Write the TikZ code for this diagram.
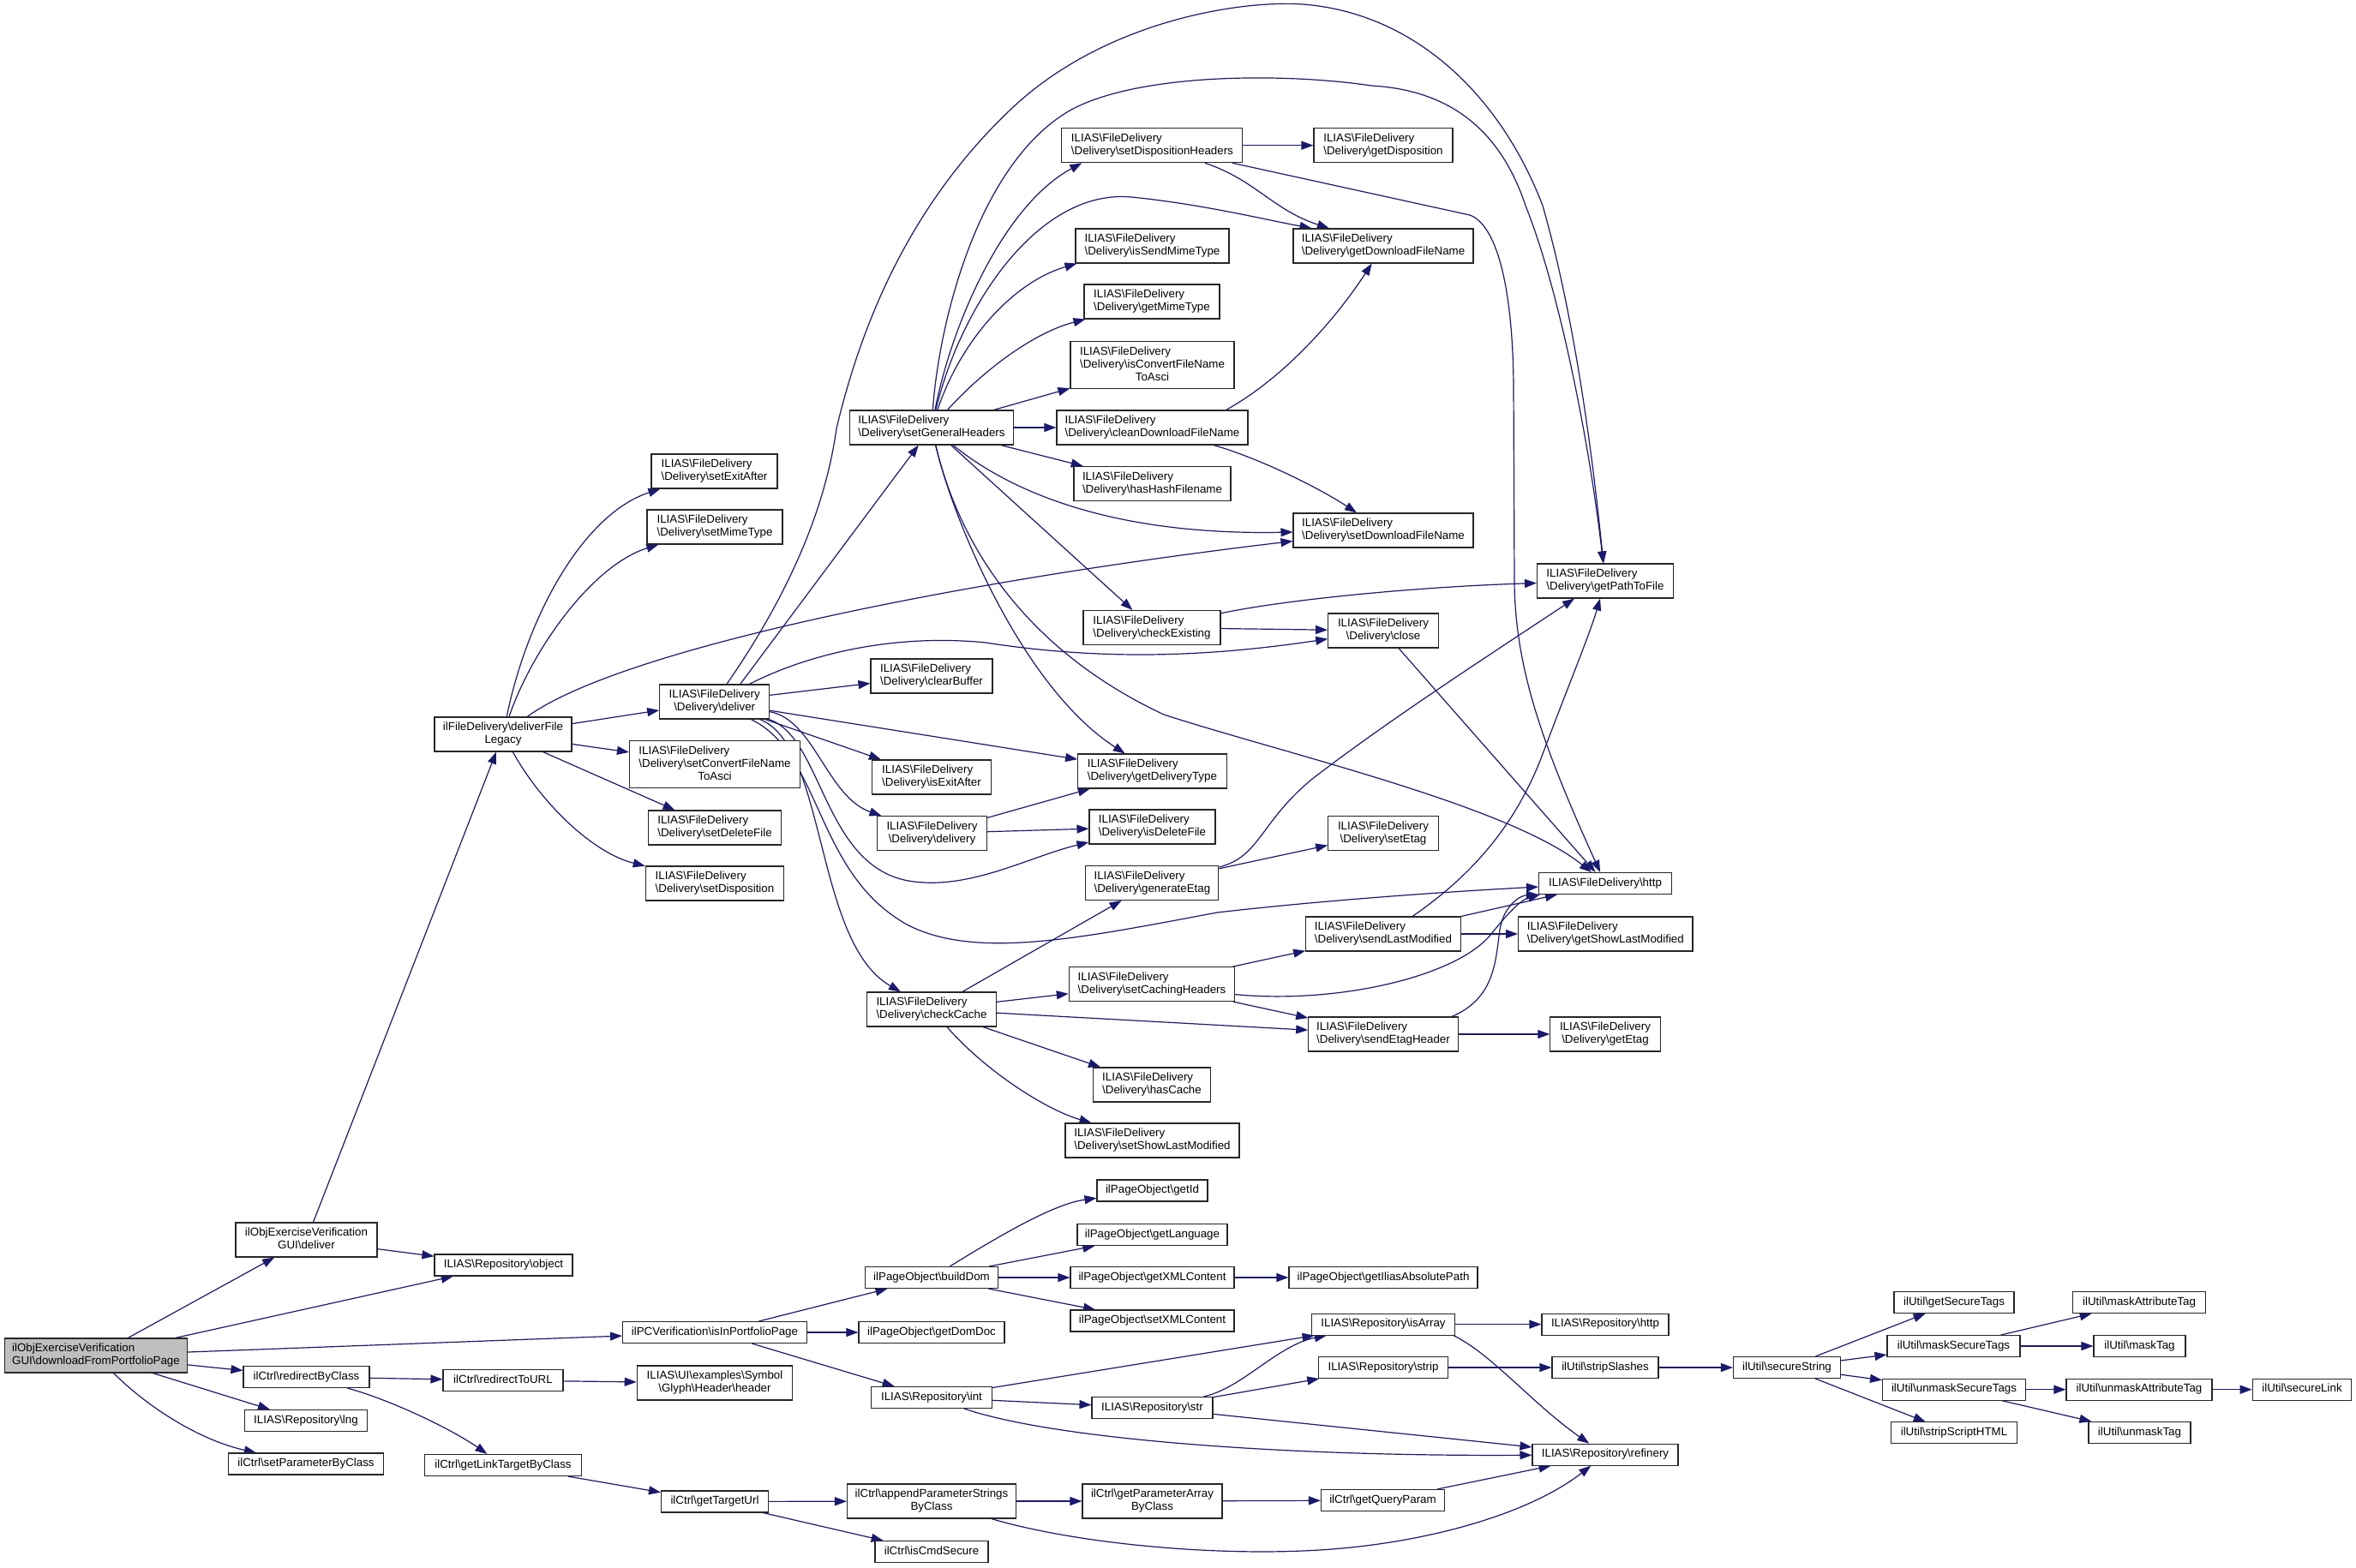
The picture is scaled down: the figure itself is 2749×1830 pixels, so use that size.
\documentclass[tikz,border=0pt]{standalone}
\usepackage{fontspec}
\setmainfont{Liberation Sans}
\usetikzlibrary{arrows.meta,calc}
\definecolor{edgecol}{HTML}{191970}
\definecolor{maingray}{HTML}{BFBFBF}
\newcommand{\Bsl}{\textbackslash}
\newcommand{\lone}[1]{\begin{tabular}{@{}c@{}}#1\end{tabular}}
\newcommand{\ltwo}[2]{\begin{tabular}{@{}l@{}}#1\\\multicolumn{1}{@{}c@{}}{#2}\end{tabular}}
\newcommand{\lthree}[3]{\begin{tabular}{@{}l@{}}#1\\#2\\\multicolumn{1}{@{}c@{}}{#3}\end{tabular}}
\newcommand{\fdl}[1]{\ltwo{ILIAS\Bsl FileDelivery}{\Bsl Delivery\Bsl #1}}
\pgfdeclarelayer{bg}
\pgfsetlayers{bg,main}
\tikzset{
  fn/.style={draw=black!85, line width=0.8pt, fill=white, inner xsep=2pt, inner ysep=3.75pt},
  w/.style={minimum width=#1*0.75pt},
  edge/.style={draw=edgecol, line width=0.9pt, -{Triangle[length=10.5pt,width=7.5pt]}},
}
\begin{document}
\begin{tikzpicture}[x=0.75pt,y=-0.75pt,font=\fontsize{10}{11.25}\selectfont]
\useasboundingbox (0,0) rectangle (2749,1830);
% ---------- nodes ----------
\node[fn,fill=maingray,w=213] (main) at (112,1582) {\ltwo{ilObjExerciseVerification}{GUI\Bsl downloadFromPortfolioPage}};
\node[fn,w=165] (gdeliver) at (357.5,1447) {\ltwo{ilObjExerciseVerification}{GUI\Bsl deliver}};
\node[fn,w=147] (rbc) at (357.5,1607) {\lone{ilCtrl\Bsl redirectByClass}};
\node[fn,w=143] (lng) at (357,1658) {\lone{ILIAS\Bsl Repository\Bsl lng}};
\node[fn,w=181] (spbc) at (357,1708.5) {\lone{ilCtrl\Bsl setParameterByClass}};
\node[fn,w=160] (dfl) at (587,857) {\ltwo{ilFileDelivery\Bsl deliverFile}{Legacy}};
\node[fn,w=161] (object) at (587.5,1476.5) {\lone{ILIAS\Bsl Repository\Bsl object}};
\node[fn,w=140] (rurl) at (587,1611) {\lone{ilCtrl\Bsl redirectToURL}};
\node[fn,w=183] (gltc) at (587,1710) {\lone{ilCtrl\Bsl getLinkTargetByClass}};
\node[fn,w=147] (sea) at (833.5,550) {\fdl{setExitAfter}};
\node[fn,w=158] (smt) at (834,615) {\fdl{setMimeType}};
\node[fn,w=128] (deliver) at (833.7,819) {\fdl{deliver}};
\node[fn,w=199] (scfn) at (834,892) {\lthree{ILIAS\Bsl FileDelivery}{\Bsl Delivery\Bsl setConvertFileName}{ToAsci}};
\node[fn,w=155] (sdf) at (834,966) {\fdl{setDeleteFile}};
\node[fn,w=161.5] (sdisp) at (834,1031) {\fdl{setDisposition}};
\node[fn,w=215] (iipp) at (834,1555) {\lone{ilPCVerification\Bsl isInPortfolioPage}};
\node[fn,w=181.5] (uih) at (834,1614) {\ltwo{ILIAS\Bsl UI\Bsl examples\Bsl Symbol}{\Bsl Glyph\Bsl Header\Bsl header}};
\node[fn,w=125] (gtu) at (834,1752.5) {\lone{ilCtrl\Bsl getTargetUrl}};
\node[fn,w=191] (sgh) at (1087,499) {\fdl{setGeneralHeaders}};
\node[fn,w=142] (cb) at (1087,789) {\fdl{clearBuffer}};
\node[fn,w=139] (iea) at (1087,907) {\fdl{isExitAfter}};
\node[fn,w=128] (dly) at (1087.5,972.6) {\fdl{delivery}};
\node[fn,w=150.5] (cc) at (1087,1178) {\fdl{checkCache}};
\node[fn,w=155] (bd) at (1087,1491) {\lone{ilPageObject\Bsl buildDom}};
\node[fn,w=170] (gdd) at (1087,1555) {\lone{ilPageObject\Bsl getDomDoc}};
\node[fn,w=141] (rint) at (1087,1631) {\lone{ILIAS\Bsl Repository\Bsl int}};
\node[fn,w=197] (apsc) at (1087,1752) {\ltwo{ilCtrl\Bsl appendParameterStrings}{ByClass}};
\node[fn,w=132] (ics) at (1087,1811) {\lone{ilCtrl\Bsl isCmdSecure}};
\node[fn,w=211] (sdh) at (1344.4,169.7) {\fdl{setDispositionHeaders}};
\node[fn,w=179] (ismt) at (1344.5,287) {\fdl{isSendMimeType}};
\node[fn,w=158] (gmt) at (1344,352) {\fdl{getMimeType}};
\node[fn,w=191] (icfn) at (1344.5,426) {\lthree{ILIAS\Bsl FileDelivery}{\Bsl Delivery\Bsl isConvertFileName}{ToAsci}};
\node[fn,w=223] (cdfn) at (1344.5,499) {\fdl{cleanDownloadFileName}};
\node[fn,w=183] (hhf) at (1344.5,564.5) {\fdl{hasHashFilename}};
\node[fn,w=160] (ce) at (1344,732.5) {\fdl{checkExisting}};
\node[fn,w=173.5] (gdt) at (1344.4,900) {\fdl{getDeliveryType}};
\node[fn,w=147] (idf) at (1344.5,965) {\fdl{isDeleteFile}};
\node[fn,w=155] (ge) at (1344.4,1030.5) {\fdl{generateEtag}};
\node[fn,w=193.4] (sch) at (1344,1148.6) {\fdl{setCachingHeaders}};
\node[fn,w=137] (hc) at (1344,1266) {\fdl{hasCache}};
\node[fn,w=203] (sslm) at (1344.5,1331) {\fdl{setShowLastModified}};
\node[fn,w=129] (gid) at (1344.5,1389.5) {\lone{ilPageObject\Bsl getId}};
\node[fn,w=175] (glang) at (1344.5,1441) {\lone{ilPageObject\Bsl getLanguage}};
\node[fn,w=191] (gxml) at (1344.5,1491) {\lone{ilPageObject\Bsl getXMLContent}};
\node[fn,w=191] (sxml) at (1344.5,1541.5) {\lone{ilPageObject\Bsl setXMLContent}};
\node[fn,w=141] (rstr) at (1344.5,1643) {\lone{ILIAS\Bsl Repository\Bsl str}};
\node[fn,w=163] (gpabc) at (1344.5,1752) {\ltwo{ilCtrl\Bsl getParameterArray}{ByClass}};
\node[fn,w=162] (gdisp) at (1614,169.7) {\fdl{getDisposition}};
\node[fn,w=210] (gdfn) at (1614,287) {\fdl{getDownloadFileName}};
\node[fn,w=210] (sdfn) at (1614,619) {\fdl{setDownloadFileName}};
\node[fn,w=128.6] (close) at (1614,736) {\fdl{close}};
\node[fn,w=128.6] (setag) at (1614,972.6) {\fdl{setEtag}};
\node[fn,w=180.6] (slm) at (1614,1090) {\fdl{sendLastModified}};
\node[fn,w=174.5] (seh) at (1614,1207) {\fdl{sendEtagHeader}};
\node[fn,w=220] (giap) at (1614,1491) {\lone{ilPageObject\Bsl getIliasAbsolutePath}};
\node[fn,w=167] (isarr) at (1614,1545.6) {\lone{ILIAS\Bsl Repository\Bsl isArray}};
\node[fn,w=151] (strip) at (1614,1596) {\lone{ILIAS\Bsl Repository\Bsl strip}};
\node[fn,w=144] (gqp) at (1613.5,1751) {\lone{ilCtrl\Bsl getQueryParam}};
\node[fn,w=159] (gptf) at (1873,678) {\fdl{getPathToFile}};
\node[fn,w=155] (fdhttp) at (1873,1031) {\lone{ILIAS\Bsl FileDelivery\Bsl http}};
\node[fn,w=203.3] (gslm) at (1873.3,1090) {\fdl{getShowLastModified}};
\node[fn,w=128.3] (getag) at (1873,1207) {\fdl{getEtag}};
\node[fn,w=148] (rhttp) at (1873,1545.6) {\lone{ILIAS\Bsl Repository\Bsl http}};
\node[fn,w=124] (ssl) at (1873,1596) {\lone{ilUtil\Bsl stripSlashes}};
\node[fn,w=170] (refinery) at (1873,1697.7) {\lone{ILIAS\Bsl Repository\Bsl refinery}};
\node[fn,w=125] (ss) at (2085,1596) {\lone{ilUtil\Bsl secureString}};
\node[fn,w=140] (gst) at (2280,1520) {\lone{ilUtil\Bsl getSecureTags}};
\node[fn,w=155] (mst) at (2279.5,1571) {\lone{ilUtil\Bsl maskSecureTags}};
\node[fn,w=167] (ust) at (2280,1621.7) {\lone{ilUtil\Bsl unmaskSecureTags}};
\node[fn,w=147] (ssh) at (2280,1672.4) {\lone{ilUtil\Bsl stripScriptHTML}};
\node[fn,w=155] (mat) at (2496,1520) {\lone{ilUtil\Bsl maskAttributeTag}};
\node[fn,w=107] (mt) at (2496.5,1571) {\lone{ilUtil\Bsl maskTag}};
\node[fn,w=170] (uat) at (2496,1621.7) {\lone{ilUtil\Bsl unmaskAttributeTag}};
\node[fn,w=119] (ut) at (2496.5,1672) {\lone{ilUtil\Bsl unmaskTag}};
\node[fn,w=115.5] (sl) at (2686,1621.7) {\lone{ilUtil\Bsl secureLink}};
% ---------- edges ----------
\begin{pgfonlayer}{bg}
\draw[edge] (main) -- (gdeliver);
\draw[edge] (main) -- (object);
\draw[edge] (main) -- (iipp);
\draw[edge] (main) -- (rbc);
\draw[edge] (main) -- (lng);
\draw[edge] (main) .. controls (170,1640) and (230,1680) .. (spbc);
\draw[edge] (gdeliver) -- (dfl);
\draw[edge] (gdeliver) -- (object);
\draw[edge] (rbc) -- (rurl);
\draw[edge] (rbc) .. controls (460,1635) and (530,1670) .. (gltc);
\draw[edge] (rurl) -- (uih);
\draw[edge] (gltc) -- (gtu);
\draw[edge] (gtu) -- (apsc);
\draw[edge] (gtu) -- (ics);
\draw[edge] (apsc) -- (gpabc);
\draw[edge] (apsc) .. controls (1250,1800) and (1400,1815) .. (1520,1810) .. controls (1650,1805) and (1780,1770) .. (refinery);
\draw[edge] (gpabc) -- (gqp);
\draw[edge] (gqp) -- (refinery);
\draw[edge] (iipp) -- (bd);
\draw[edge] (iipp) -- (gdd);
\draw[edge] (iipp) -- (rint);
\draw[edge] (bd) .. controls (1170,1440) and (1230,1405) .. (gid);
\draw[edge] (bd) -- (glang);
\draw[edge] (bd) -- (gxml);
\draw[edge] (bd) -- (sxml);
\draw[edge] (gxml) -- (giap);
\draw[edge] (rint) -- (isarr);
\draw[edge] (rint) -- (rstr);
\draw[edge] (rint) .. controls (1230,1680) and (1500,1700) .. (refinery);
\draw[edge] (rstr) .. controls (1450,1620) and (1490,1570) .. (isarr);
\draw[edge] (rstr) -- (strip);
\draw[edge] (rstr) -- (refinery);
\draw[edge] (isarr) -- (rhttp);
\draw[edge] ($(isarr.south east)+(-2,0)$) .. controls (1740,1580) and (1790,1640) .. (refinery);
\draw[edge] (strip) -- (ssl);
\draw[edge] (ssl) -- (ss);
\draw[edge] (ss) -- (gst);
\draw[edge] (ss) -- (mst);
\draw[edge] (ss) -- (ust);
\draw[edge] (ss) -- (ssh);
\draw[edge] (mst) -- (mat);
\draw[edge] (mst) -- (mt);
\draw[edge] (ust) -- (uat);
\draw[edge] (ust) -- (ut);
\draw[edge] (uat) -- (sl);
% deliverFileLegacy
\draw[edge] (dfl) .. controls (615,720) and (680,600) .. (sea);
\draw[edge] (dfl) .. controls (620,760) and (690,660) .. (smt);
\draw[edge] (dfl) .. controls (720,760) and (1100,680) .. (sdfn);
\draw[edge] (dfl) -- (deliver);
\draw[edge] (dfl) -- (scfn);
\draw[edge] (dfl) -- (sdf);
\draw[edge] (dfl) .. controls (630,935) and (690,995) .. (sdisp);
% deliver
\draw[edge] (deliver) .. controls (930,680) and (965,580) .. (976,500) .. controls (1000,400) and (1050,250) .. (1180,127) .. controls (1290,23) and (1450,0) .. (1520,5) .. controls (1650,15) and (1750,110) .. (1800,240) .. controls (1840,380) and (1860,550) .. (gptf);
\draw[edge] ($(deliver.north)+(30,0)$) -- (sgh);
\draw[edge] (deliver) .. controls (950,760) and (1050,740) .. (1150,750) .. controls (1280,770) and (1400,768) .. (close);
\draw[edge] (deliver) -- (cb);
\draw[edge] (deliver) -- (gdt);
\draw[edge] (deliver) -- (iea);
\draw[edge] (deliver) .. controls (950,840) and (965,930) .. (dly);
\draw[edge] (deliver) .. controls (960,860) and (960,1010) .. (1060,1028) .. controls (1130,1040) and (1200,1000) .. (idf);
\draw[edge] (deliver) .. controls (960,880) and (950,1020) .. (1060,1080) .. controls (1140,1120) and (1260,1095) .. (1420,1065) .. controls (1550,1050) and (1700,1040) .. (fdhttp);
\draw[edge] (deliver) .. controls (965,870) and (950,1100) .. (cc);
% setGeneralHeaders
\draw[edge] (sgh) .. controls (1095,380) and (1140,190) .. (1250,128) .. controls (1330,85) and (1500,85) .. (1600,100) .. controls (1690,105) and (1750,150) .. (1780,240) .. controls (1820,340) and (1855,520) .. (gptf);
\draw[edge] (sgh) .. controls (1110,380) and (1170,240) .. ($(sdh.south west)+(24,0)$);
\draw[edge] (sgh) .. controls (1120,400) and (1180,330) .. ($(ismt.south west)+(2,0)$);
\draw[edge] (sgh) .. controls (1140,440) and (1200,390) .. ($(gmt.south west)+(2,0)$);
\draw[edge] (sgh) -- (icfn);
\draw[edge] (sgh) -- (cdfn);
\draw[edge] (sgh) -- (hhf);
\draw[edge] (sgh) .. controls (1120,360) and (1210,220) .. (1320,230) .. controls (1400,238) and (1470,255) .. ($(gdfn.north west)+(22,0)$);
\draw[edge] (sgh) -- (ce);
\draw[edge] (sgh) .. controls (1110,600) and (1190,800) .. (gdt);
\draw[edge] (sgh) .. controls (1180,575) and (1300,625) .. (sdfn);
\draw[edge] (sgh) .. controls (1120,640) and (1200,760) .. (1358,834) .. controls (1500,880) and (1760,940) .. (fdhttp);
% cleanDownloadFileName, setDispositionHeaders
\draw[edge] ($(cdfn.north east)+(-26,0)$) .. controls (1500,440) and (1560,370) .. (gdfn);
\draw[edge] (cdfn) .. controls (1470,535) and (1540,570) .. (sdfn);
\draw[edge] (sdh) -- (gdisp);
\draw[edge] (sdh) .. controls (1465,210) and (1485,245) .. (gdfn);
\draw[edge] (sdh) -- (1715,251) .. controls (1745,262) and (1765,330) .. (1766,450) -- (1767,680) .. controls (1768,780) and (1800,870) .. (fdhttp);
% checkExisting, close, delivery
\draw[edge] (ce) .. controls (1500,700) and (1650,685) .. (gptf);
\draw[edge] (ce) -- (close);
\draw[edge] (close) -- (fdhttp);
\draw[edge] (dly) -- (gdt);
\draw[edge] (dly) -- (idf);
% generateEtag
\draw[edge] (ge) -- (setag);
\draw[edge] ($(ge.north east)+(0,2)$) .. controls (1470,1000) and (1470,960) .. (1530,910) .. controls (1620,840) and (1760,750) .. ($(gptf.south west)+(44,0)$);
% checkCache
\draw[edge] (cc) -- (ge);
\draw[edge] (cc) -- (sch);
\draw[edge] (cc) -- (seh);
\draw[edge] (cc) -- (hc);
\draw[edge] (cc) .. controls (1150,1250) and (1220,1295) .. (sslm);
% setCachingHeaders
\draw[edge] (sch) -- (slm);
\draw[edge] (sch) -- (seh);
\draw[edge] ($(sch.east)+(0,12)$) .. controls (1560,1172) and (1700,1140) .. (1740,1090) .. controls (1760,1065) and (1775,1050) .. ($(fdhttp.south west)+(2,0)$);
% sendLastModified
\draw[edge] ($(slm.north)+(34,0)$) .. controls (1720,1020) and (1770,960) .. (1800,880) .. controls (1830,800) and (1855,740) .. ($(gptf.south)+(-6,0)$);
\draw[edge] (slm.north east) -- ($(fdhttp.south west)+(22,0)$);
\draw[edge] (slm) -- (gslm);
% sendEtagHeader
\draw[edge] (seh) -- (getag);
\draw[edge] ($(seh.north east)+(-8,0)$) .. controls (1745,1165) and (1745,1120) .. (1750,1085) .. controls (1755,1055) and (1775,1045) .. (fdhttp.south west);
\end{pgfonlayer}
\end{tikzpicture}
\end{document}
